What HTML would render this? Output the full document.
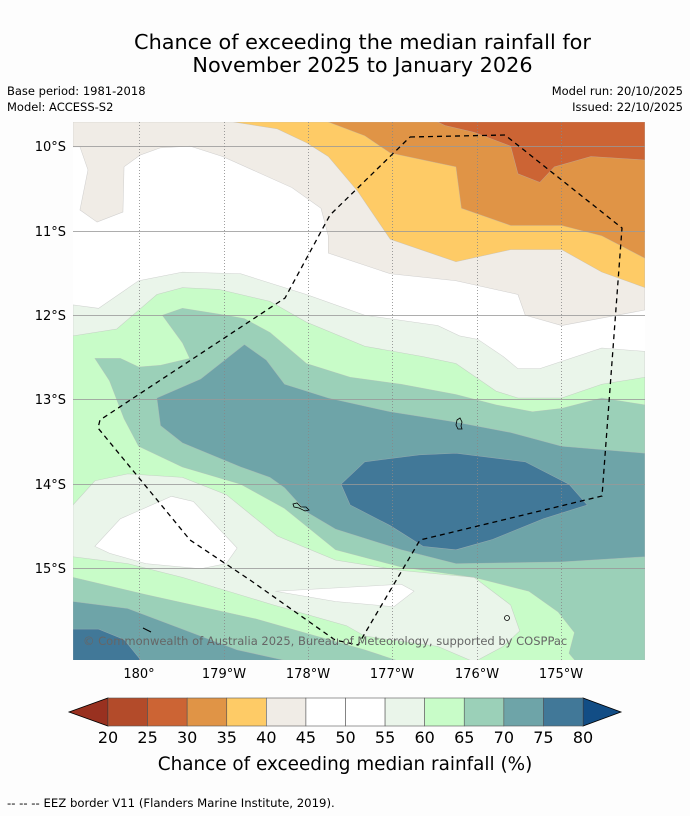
<!DOCTYPE html>
<html><head><meta charset="utf-8">
<style>
body{margin:0;background:#fdfdfd;font-family:"DejaVu Sans","Liberation Sans",sans-serif;}
#wrap{position:relative;width:690px;height:816px;overflow:hidden;background:#fdfdfd;}
.t{position:absolute;white-space:nowrap;color:#000;}
</style></head><body>
<div id="wrap">
<div class="t" style="left:0;width:725px;text-align:center;top:31px;font-size:20.8px;line-height:23px;">Chance of exceeding the median rainfall for<br>November 2025 to January 2026</div>
<div class="t" style="left:7px;top:84px;font-size:11.5px;">Base period: 1981-2018</div>
<div class="t" style="left:7px;top:100px;font-size:11.5px;">Model: ACCESS-S2</div>
<div class="t" style="right:7px;top:84px;font-size:11.5px;">Model run: 20/10/2025</div>
<div class="t" style="right:7px;top:100px;font-size:11.5px;">Issued: 22/10/2025</div>

<svg id="map" width="690" height="816" style="position:absolute;left:0;top:0" xmlns="http://www.w3.org/2000/svg">
<defs><clipPath id="mc"><rect x="73" y="122" width="572" height="538"/></clipPath></defs>
<g clip-path="url(#mc)">
<rect x="73" y="122" width="572" height="538" fill="#ffffff"/>
<g transform="translate(73,122) scale(0.3647,0.345)" stroke="#b8b8b8" stroke-width="1.5" stroke-opacity="0.6">
<polygon fill="#f0ece6" points="0,0 1568,0 1568,545 1340,590 1240,560 1220,500 1050,460 870,440 700,380 700,330 680,250 600,190 410,100 321,70 239,75 184,96 140,130 137,261 66,290 19,255 41,139 19,72 0,72"/>
<polygon fill="#fecb66" points="440,0 1568,0 1568,480 1450,435 1340,370 1200,370 1050,405 870,340 780,200 700,100 640,60 560,20"/>
<polygon fill="#e09446" points="700,0 1568,0 1568,395 1450,330 1340,300 1200,300 1065,250 1050,130 870,90 800,40"/>
<polygon fill="#cc6434" points="1000,0 1568,0 1568,110 1420,100 1320,130 1280,175 1220,150 1200,70 1100,30 1020,10"/>
<polygon fill="#eaf5ea" points="0,530 70,540 180,460 300,435 460,440 640,500 800,560 1000,590 1060,620 1110,630 1180,680 1220,715 1280,715 1450,655 1568,665 1568,1565 0,1565"/>
<polygon fill="#ffffff" points="60,1230 130,1150 270,1085 330,1100 450,1235 420,1280 350,1295 200,1280 100,1250"/>
<polygon fill="#ffffff" points="555,1360 900,1340 935,1360 880,1405 720,1390"/>
<polygon fill="#c8fcc8" points="0,620 120,600 230,500 300,480 400,485 540,520 640,580 800,650 960,680 1050,700 1160,780 1220,800 1340,800 1450,760 1568,740 1568,1565 1100,1565 1180,1520 1225,1475 1200,1400 1100,1320 900,1300 720,1270 560,1200 420,1080 300,1030 150,1020 60,1040 0,1110"/>
<polygon fill="#c8fcc8" points="0,1260 150,1280 300,1320 550,1400 750,1460 800,1490 1000,1520 1100,1565 0,1565"/>
<polygon fill="#9bd0b8" points="60,685 130,685 180,710 240,705 320,685 300,640 245,560 300,540 420,560 470,570 540,610 640,700 760,740 900,760 1050,790 1160,820 1260,840 1340,830 1450,800 1568,820 1568,1565 1380,1565 1360,1540 1375,1480 1330,1420 1250,1360 1100,1320 900,1290 720,1240 580,1120 460,1050 300,1000 180,940 140,860 100,750"/>
<polygon fill="#9bd0b8" points="0,1320 200,1370 500,1440 700,1500 800,1530 900,1565 0,1565"/>
<polygon fill="#6ea4a8" points="230,800 350,745 470,645 530,690 580,760 700,800 870,840 1050,870 1200,900 1340,940 1568,960 1568,1260 1340,1275 1050,1280 900,1240 720,1180 640,1130 580,1060 540,1030 460,1000 300,930 240,880"/>
<polygon fill="#6ea4a8" points="0,1390 150,1410 300,1470 450,1530 600,1565 0,1565"/>
<polygon fill="#417898" points="735,1050 800,985 950,965 1050,960 1240,985 1360,1050 1410,1110 1290,1150 1150,1210 1050,1240 960,1230 870,1170 760,1110"/>
<polygon fill="#417898" points="0,1470 70,1470 140,1500 190,1565 0,1565"/>
</g>
<g stroke="#999" stroke-width="1" opacity="0.8">
<line x1="73" x2="645" y1="146.5" y2="146.5"/><line x1="73" x2="645" y1="231.5" y2="231.5"/><line x1="73" x2="645" y1="315.5" y2="315.5"/><line x1="73" x2="645" y1="399.5" y2="399.5"/><line x1="73" x2="645" y1="484.5" y2="484.5"/><line x1="73" x2="645" y1="568.5" y2="568.5"/>
</g>
<g stroke="#888" stroke-width="1" stroke-dasharray="1,2" opacity="0.8">
<line y1="122" y2="660" x1="139.5" x2="139.5"/><line y1="122" y2="660" x1="224.5" x2="224.5"/><line y1="122" y2="660" x1="308.5" x2="308.5"/><line y1="122" y2="660" x1="392.5" x2="392.5"/><line y1="122" y2="660" x1="477.5" x2="477.5"/><line y1="122" y2="660" x1="561.5" x2="561.5"/>
</g>
<polyline fill="none" stroke="#000" stroke-width="1.3" stroke-dasharray="5,4" points="410,137 505,135 622,228 602,496 420,540 358,645 335,640 250,580 190,540 98,428 100,420 285,298 330,215 410,137"/>
<path d="M457,420 l3,-2 l2,4 l-1,4 l1,3 l-4,0 l-2,-4z" fill="none" stroke="#000" stroke-width="0.8"/>
<path d="M293,504 l4,-1 l4,4 l5,0 l3,3 l-4,1 l-6,-3 l-5,-1z" fill="none" stroke="#000" stroke-width="0.8"/>
<circle cx="507" cy="618" r="2.5" fill="none" stroke="#000" stroke-width="0.8"/>
<line x1="143" y1="628" x2="151" y2="632" stroke="#000" stroke-width="1"/>
<text x="83" y="645" font-size="11.5" fill="#666" font-family="DejaVu Sans, Liberation Sans, sans-serif">© Commonwealth of Australia 2025, Bureau of Meteorology, supported by COSPPac</text>
</g>
<g font-size="13" text-anchor="end" font-family="DejaVu Sans, Liberation Sans, sans-serif">
<text x="66" y="151">10°S</text><text x="66" y="236">11°S</text><text x="66" y="320">12°S</text><text x="66" y="404">13°S</text><text x="66" y="489">14°S</text><text x="66" y="573">15°S</text>
</g>
<g font-size="13" text-anchor="middle" font-family="DejaVu Sans, Liberation Sans, sans-serif">
<text x="139" y="678">180°</text><text x="224" y="678">179°W</text><text x="308" y="678">178°W</text><text x="392" y="678">177°W</text><text x="477" y="678">176°W</text><text x="561" y="678">175°W</text>
</g>
<g id="cbar"></g>
<text x="345" y="770" font-size="18.4" text-anchor="middle" font-family="DejaVu Sans, Liberation Sans, sans-serif">Chance of exceeding median rainfall (%)</text>
<text x="7" y="807" font-size="11.7" font-family="DejaVu Sans, Liberation Sans, sans-serif">--  --  -- EEZ border V11 (Flanders Marine Institute, 2019).</text>
</svg>
</div>
<script>
const levels=[20,25,30,35,40,45,50,55,60,65,70,75,80];
const binColors=["#b34b2a","#cc6434","#e09446","#fecb66","#f0ece6","#ffffff","#ffffff","#eaf5ea","#c8fcc8","#9bd0b8","#6ea4a8","#417898"];
const underColor="#993120", overColor="#124d85";
const NS="http://www.w3.org/2000/svg";
const g=document.getElementById('cbar');
const x0=108,x1=583,y0=698,y1=726;
function xs(v){return x0+(v-levels[0])/(levels[levels.length-1]-levels[0])*(x1-x0);}
const lt=document.createElementNS(NS,'polygon');
lt.setAttribute('points',`${x0},${y0} ${x0},${y1} 69,${(y0+y1)/2}`);
lt.setAttribute('fill',underColor);lt.setAttribute('stroke','#000');lt.setAttribute('stroke-width','0.8');


g.appendChild(lt);
const rt=document.createElementNS(NS,'polygon');
rt.setAttribute('points',`${x1},${y0} ${x1},${y1} 621,${(y0+y1)/2}`);
rt.setAttribute('fill',overColor);rt.setAttribute('stroke','#000');rt.setAttribute('stroke-width','0.8');


g.appendChild(rt);
binColors.forEach((c,i)=>{
 const r=document.createElementNS(NS,'rect');
 r.setAttribute('x',xs(levels[i]));r.setAttribute('y',y0);
 r.setAttribute('width',xs(levels[i+1])-xs(levels[i]));r.setAttribute('height',y1-y0);
 r.setAttribute('fill',c);r.setAttribute('stroke','#555');r.setAttribute('stroke-width','0.6');
 
 
 g.appendChild(r);
});
levels.forEach(v=>{
 const t=document.createElementNS(NS,'text');
 t.setAttribute('x',xs(v));t.setAttribute('y',743);t.setAttribute('font-size','16');
 t.setAttribute('text-anchor','middle');t.setAttribute('font-family','DejaVu Sans, Liberation Sans, sans-serif');
 t.textContent=v;
 
 
 g.appendChild(t);
});
</script>
</body></html>
